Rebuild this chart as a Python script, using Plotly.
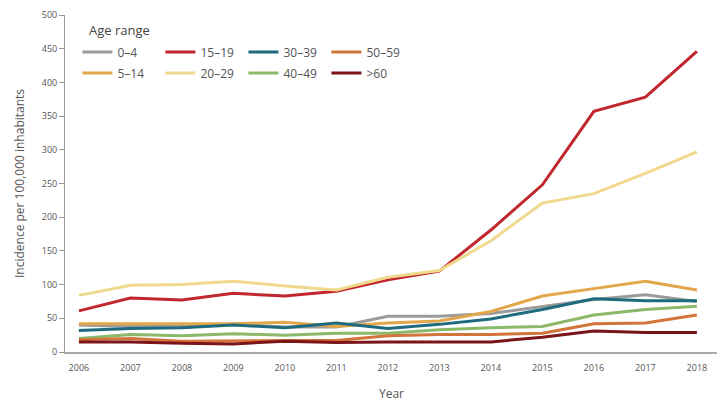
import plotly.graph_objects as go

years = list(range(2006, 2019))

age_0_4   = [40, 38, 38, 41, 37, 37, 53, 53, 57, 68, 78, 85, 75]
age_5_14  = [42, 42, 41, 42, 44, 38, 43, 46, 60, 83, 94, 105, 92]
age_15_19 = [61, 80, 77, 87, 83, 90, 107, 120, 181, 248, 357, 378, 446]
age_20_29 = [84, 99, 100, 105, 98, 92, 111, 121, 165, 221, 235, 265, 297]
age_30_39 = [32, 35, 36, 40, 36, 43, 35, 41, 49, 63, 79, 76, 76]
age_40_49 = [20, 26, 24, 27, 25, 28, 28, 33, 36, 38, 55, 63, 68]
age_50_59 = [18, 20, 16, 17, 17, 17, 24, 26, 26, 28, 42, 43, 55]
age_60p   = [15, 15, 13, 12, 16, 14, 15, 15, 15, 22, 31, 29, 29]

series = [
    # name, values, color, legend, rank
    ("0–4",   age_0_4,   "#9b9b9b", "legend",  1),
    ("5–14",  age_5_14,  "#e2a64b", "legend2", 1),
    ("15–19", age_15_19, "#c1272d", "legend",  2),
    ("20–29", age_20_29, "#f0d98c", "legend2", 2),
    ("30–39", age_30_39, "#1e6b80", "legend",  3),
    ("40–49", age_40_49, "#8cb869", "legend2", 3),
    ("50–59", age_50_59, "#d3743a", "legend",  4),
    (">60",   age_60p,   "#7b1519", "legend2", 4),
]

fig = go.Figure()
for name, vals, col, lg, rk in series:
    fig.add_trace(go.Scatter(
        x=years, y=vals, mode="lines", name=name,
        line=dict(color=col, width=3),
        legend=lg, legendrank=rk,
    ))

font_family = "Open Sans"
legend_common = dict(
    orientation="h", xanchor="left", yanchor="middle",
    font=dict(family=font_family, size=12, color="#555555"),
    bgcolor="rgba(0,0,0,0)", entrywidth=38, entrywidthmode="pixels",
    itemwidth=30, tracegroupgap=0,
)

# page body has an 8px default margin; figure sized/offset to compensate
fig.update_layout(
    width=710, height=394,
    margin=dict(l=57, r=0, t=7, b=50, autoexpand=False),
    paper_bgcolor="white", plot_bgcolor="white",
    font=dict(family=font_family, color="#555555"),
    showlegend=True,
    legend=dict(x=0.019, y=0.89, **legend_common),
    legend2=dict(x=0.019, y=0.828, **legend_common),
    xaxis=dict(
        range=[2005.73, 2018.41], tickmode="array", tickvals=years,
        ticktext=[str(y) for y in years], showgrid=False, zeroline=False,
        showline=True, linecolor="#aaaaaa", linewidth=1.5, ticks="",
        ticklabelstandoff=6, automargin=False,
        tickfont=dict(family=font_family, size=9, color="#555555"),
        title=dict(text="Year", standoff=18,
                   font=dict(family=font_family, size=12, color="#555555")),
    ),
    yaxis=dict(
        range=[0, 500], tickvals=[0, 50, 100, 150, 200, 250, 300, 350, 400, 450, 500],
        showgrid=False, zeroline=False, showline=True, linecolor="#999999",
        linewidth=1, ticks="outside", ticklen=5, tickcolor="#999999",
        automargin=False,
        tickfont=dict(family=font_family, size=9, color="#555555"),
        title=dict(text="Incidence per 100,000 inhabitants", standoff=14,
                   font=dict(family=font_family, size=12, color="#555555")),
    ),
    annotations=[dict(
        text="Age range", x=0.034, y=0.955, xref="paper", yref="paper",
        xanchor="left", yanchor="middle", showarrow=False,
        font=dict(family=font_family, size=13, color="#444444"),
    )],
)

fig.write_html("out.html")
